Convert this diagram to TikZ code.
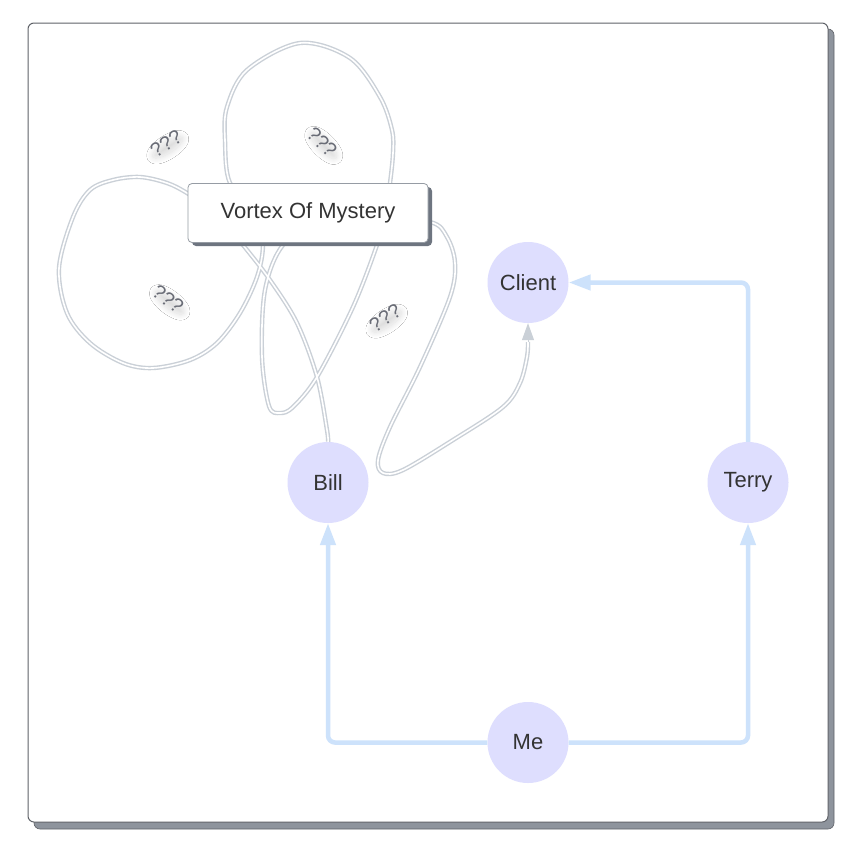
\documentclass[tikz,border=0pt]{standalone}
\usepackage{fontspec}
\setmainfont{Liberation Sans}
\usetikzlibrary{arrows.meta,shapes.geometric,shadows.blur}
\definecolor{lav}{RGB}{222,222,254}
\definecolor{blueln}{RGB}{205,226,251}
\definecolor{greyln}{RGB}{202,208,215}
\definecolor{txt}{RGB}{51,51,51}
\definecolor{framesh}{RGB}{142,148,157}
\definecolor{framebd}{RGB}{95,98,104}
\definecolor{boxsh}{RGB}{110,117,128}
\definecolor{boxbd}{RGB}{150,156,164}
\definecolor{qcol}{RGB}{105,108,118}
\begin{document}
\begin{tikzpicture}[x=1pt,y=-1pt,
  person/.style={circle,fill=lav,minimum size=81pt,inner sep=0pt,text=txt,font=\fontsize{22}{26}\selectfont},
  blueline/.style={draw=blueln,line width=4.5pt,rounded corners=7pt,-{Triangle[length=22pt,width=15pt]}},
  vortexline/.style={draw=greyln,line width=1.4pt,double=white,double distance=1.6pt,line join=round},
  qq/.style={text=qcol,font=\fontsize{20}{22}\selectfont,inner sep=-2pt,ellipse,
    blur shadow={shadow xshift=2pt,shadow yshift=-4pt,shadow opacity=14,shadow scale=0.85,shadow blur steps=20,shadow blur radius=7pt}},
  vbox/.style={rectangle,rounded corners=4pt,fill=white,draw=boxbd,line width=0.8pt,minimum width=240pt,minimum height=59pt,text=txt,font=\fontsize{22}{26}\selectfont},
]
\useasboundingbox (0,0) rectangle (858,852);
% frame
\fill[framesh,draw=framebd,line width=0.6pt,rounded corners=6pt] (34,29) rectangle (834,829);
\draw[fill=white,draw=framebd,line width=1pt,rounded corners=6pt] (28,23) rectangle (828,822);

% nodes
\node[person] (Client) at (528,282.5) {Client};
\node[person] (Bill) at (328,482.5) {Bill};
\node[person] (Terry) at (748,482.5) {Terry};
\node[person] (Me) at (528,742.5) {Me};

% vortex connector
\coordinate (vend) at (528,342);
\draw[vortexline] plot[smooth,tension=0.55] coordinates {
 (Bill.north) (327,430) (317,377) (297,323) (270,280) (243,245) (215,212)
 (187,193) (167,183) (140,177) (113,180) (90,190) (73,217) (59,268) (67,313)
 (90,343) (123,363) (153,368) (190,360) (217,343) (240,313) (257,277) (263,245)
 (258,212) (230,183) (225,140) (227,107) (247,70) (300,43) (350,58) (380,97)
 (392,130) (393,153) (390,183) (385,215) (377,245) (353,307) (317,377)
 (293,407) (280,413) (269,406) (262,357) (265,290) (283,245) (320,222)
 (370,218) (430,222) (447,237) (455,263) (450,297) (420,367) (390,427)
 (378,460) (383,473) (403,470) (453,440) (503,407) (520,383) (527,357) (vend)};
\draw[greyln,line width=1pt,-{Triangle[length=17pt,width=12pt]}] (vend) -- (Client.south);

% vortex box
\fill[boxsh,rounded corners=4pt] (192,187) rectangle (432,246);
\node[vbox] (Vortex) at (308,213) {Vortex Of Mystery};

% blue connectors
\draw[blueline] (Me.west) -| (Bill.south);
\draw[blueline] (Me.east) -| (Terry.south);
\draw[blueline] (Terry.north) |- (Client.east);

% question marks
\node[qq,rotate=33] (q1) at (166,144) {???};
\node[qq,rotate=-45] (q2) at (322,142) {???};
\node[qq,rotate=-38] (q3) at (168,299) {???};
\node[qq,rotate=34] (q4) at (385,318) {???};
\end{tikzpicture}
\end{document}
